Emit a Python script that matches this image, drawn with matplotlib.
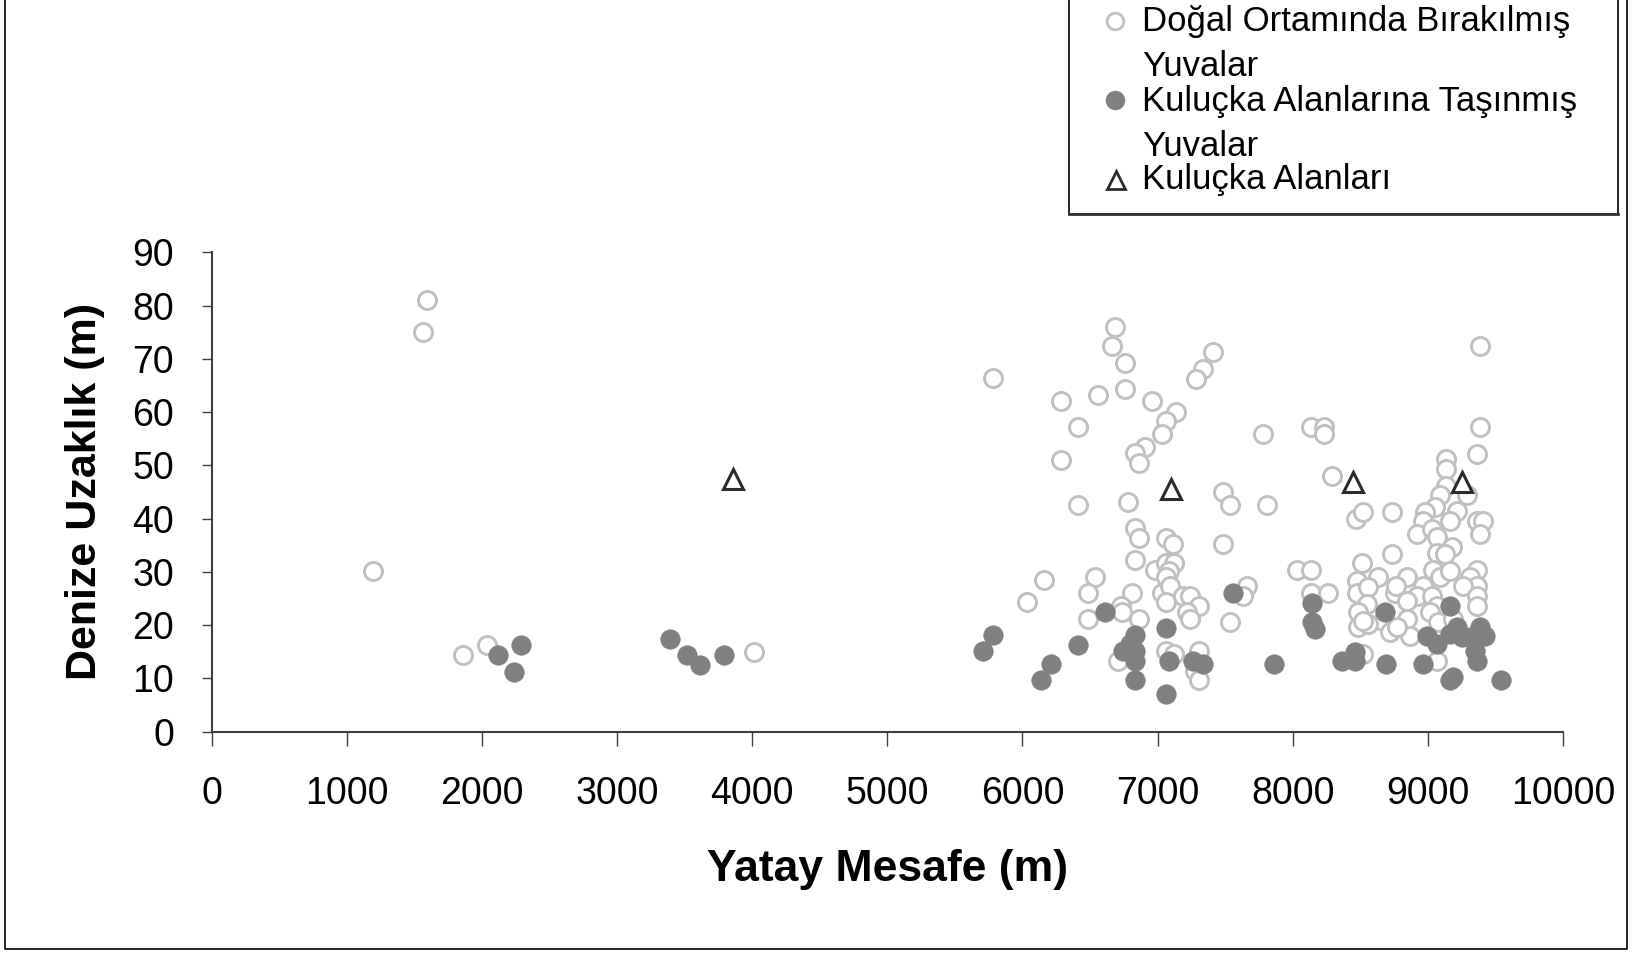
import matplotlib
matplotlib.use("Agg")
import matplotlib.pyplot as plt
from matplotlib.lines import Line2D
from matplotlib.patches import Rectangle

plt.rcParams['font.family'] = ['Liberation Sans', 'DejaVu Sans']

# Doğal Ortamında Bırakılmış Yuvalar (open light circles)
x_dogal = [1190, 1590, 1565, 1860, 2035, 4015,
           6685, 6663, 6759, 5785, 7408, 7334, 7285, 6759, 6285, 6559, 6959, 7136, 7063, 7033,
           6409, 7783, 6907, 6836, 6860, 6285, 6409, 6784, 7487, 7536, 7812, 6836, 6860, 7063,
           7112, 7487, 6836, 6981, 7063, 7124, 7082, 7063, 8035, 6535, 6160, 6031, 6483, 6808,
           7033, 7092, 7063, 7191, 7240, 7309, 7215, 7240, 6730, 6737, 6860, 6483, 7660, 7635,
           7536, 7063, 7124, 7309, 6710, 7277, 7309,
           9386, 9386, 8133, 8232, 8232, 9361, 9134, 9134, 8288, 9134, 9090, 9287, 9053, 9213,
           8468, 8523, 8737, 8979, 8967, 9164, 9361, 9411, 9386, 8917, 9028, 9065, 9065, 9176,
           9127, 8737, 8510, 8135, 9361, 9041, 9090, 9164, 8473, 8634, 8843, 8967, 9312, 9361,
           9263, 8473, 8560, 8757, 8762, 8917, 9361, 8135, 8264, 8547, 8843, 9028, 9065, 9361,
           8486, 8671, 8843, 9016, 9078, 9188, 8486, 8560, 8720, 8868, 8523, 9065, 8523, 8770]
y_dogal = [30.2, 81.0, 75.0, 14.4, 16.2, 15.0,
           76.0, 72.4, 69.3, 66.3, 71.2, 68.0, 66.2, 64.4, 62.0, 63.2, 62.0, 60.1, 58.4, 55.8,
           57.1, 55.8, 53.5, 52.3, 50.5, 51.0, 42.5, 43.1, 44.9, 42.5, 42.5, 38.2, 36.4, 36.4,
           35.2, 35.2, 32.2, 30.3, 31.6, 31.6, 30.2, 29.0, 30.3, 29.1, 28.4, 24.3, 26.1, 26.1,
           26.1, 27.4, 24.3, 25.5, 25.5, 23.6, 22.4, 21.1, 23.6, 22.4, 21.1, 21.1, 27.4, 25.5,
           20.5, 15.1, 14.6, 15.1, 13.3, 11.4, 9.6,
           72.4, 57.2, 57.1, 57.1, 55.8, 52.2, 51.2, 49.3, 48.0, 46.2, 44.4, 44.4, 42.1, 41.5,
           40.0, 41.3, 41.3, 41.2, 39.6, 39.6, 39.6, 39.6, 37.1, 37.1, 38.0, 36.5, 33.6, 34.6,
           33.3, 33.3, 31.6, 30.3, 30.3, 30.3, 29.0, 30.2, 28.3, 29.0, 29.0, 27.4, 29.0, 27.4,
           27.4, 26.1, 27.1, 26.1, 27.4, 25.5, 25.5, 26.1, 26.1, 23.9, 24.6, 25.5, 23.6, 23.6,
           22.4, 20.8, 21.1, 22.4, 20.5, 21.1, 19.6, 20.2, 18.6, 18.0, 14.6, 13.3, 20.8, 19.6]

# Kuluçka Alanlarına Taşınmış Yuvalar (filled dark circles)
x_tasinmis = [2117, 2238, 2291, 3392, 3517, 3615, 3792,
              5785, 5711, 6211, 6135, 6409, 6611, 6836, 6747, 6836, 6836, 6796, 6836, 7063,
              7087, 7063, 7260, 7339, 7561, 7862,
              8140, 8140, 8165, 8362, 8461, 8461, 8683, 8688, 8962, 8991, 9065, 9164, 9164,
              9213, 9250, 9312, 9386, 9423, 9349, 9361, 9164, 9188, 9539]
y_tasinmis = [14.3, 11.2, 16.2, 17.3, 14.3, 12.5, 14.3,
              18.1, 15.1, 12.7, 9.6, 16.3, 22.4, 18.1, 15.1, 15.1, 13.3, 16.4, 9.6, 19.4,
              13.3, 7.1, 13.3, 12.7, 26.1, 12.7,
              24.1, 20.5, 19.2, 13.3, 14.9, 13.3, 22.4, 12.7, 12.7, 18.0, 16.4, 23.6, 18.3,
              19.6, 17.7, 17.7, 19.6, 18.0, 15.2, 13.3, 9.6, 10.2, 9.6]

# Kuluçka Alanları (triangles)
x_alan = [3857, 7100, 8449, 9250]
y_alan = [47.5, 45.5, 46.8, 46.8]

legend_labels = ["Doğal Ortamında Bırakılmış", "Yuvalar",
                 "Kuluçka Alanlarına Taşınmış", "Yuvalar", "Kuluçka Alanları"]

W, H = 1635, 955
fig = plt.figure(figsize=(W / 100, H / 100), dpi=100)
fig.patch.set_facecolor('white')

def fx(px):
    return px / W

def fy(py):
    return 1 - py / H

ax = fig.add_axes([fx(211.7), fy(731.5), fx(1563) - fx(211.7), fy(252.3) - fy(731.5)])

ax.plot(x_dogal, y_dogal, linestyle='none', marker='o', markersize=13,
        markerfacecolor='white', markeredgecolor='#c0c0c0', markeredgewidth=2.1, zorder=3)
ax.plot(x_tasinmis, y_tasinmis, linestyle='none', marker='o', markersize=14,
        markerfacecolor='#808080', markeredgecolor='#808080', markeredgewidth=0.5, zorder=4)
ax.plot(x_alan, y_alan, linestyle='none', marker='^', markersize=15,
        markerfacecolor='white', markeredgecolor='#2b2b2b', markeredgewidth=2.2, zorder=5)

ax.set_xlim(0, 10000)
ax.set_ylim(0, 90)
ax.set_xticks(range(0, 10001, 1000))
ax.set_yticks(range(0, 91, 10))
for s in ['top', 'right']:
    ax.spines[s].set_visible(False)
for s in ['left', 'bottom']:
    ax.spines[s].set_color('#404040')
    ax.spines[s].set_linewidth(1.5)
ax.tick_params(axis='x', direction='out', length=10, width=1, colors='#404040',
               labelsize=27, labelcolor='black', pad=22)
ax.tick_params(axis='y', direction='out', length=7, width=1, colors='#404040',
               labelsize=27, labelcolor='black', pad=20)
ax.set_xlabel('Yatay Mesafe (m)', fontsize=32, fontweight='bold', labelpad=27)
ax.set_ylabel('Denize Uzaklık (m)', fontsize=31, fontweight='bold', labelpad=20)

# Figure border (left, bottom, right)
fig.add_artist(Line2D([fx(5), fx(5), fx(1627), fx(1627)],
                      [1.0, fy(949), fy(949), 1.0], color='black', linewidth=1.2))

# Legend box
fig.add_artist(Rectangle((fx(1069), fy(214)), fx(1618) - fx(1069), 1.05 - fy(214),
                         facecolor='white', edgecolor='black', linewidth=1.2))
fig.add_artist(Line2D([fx(1069), fx(1618)], [fy(214), fy(214)], color='#333333', linewidth=2.0))

fig.add_artist(Line2D([fx(1115)], [fy(21)], linestyle='none', marker='o', markersize=12,
                      markerfacecolor='white', markeredgecolor='#c0c0c0', markeredgewidth=2.0))
fig.add_artist(Line2D([fx(1115)], [fy(100)], linestyle='none', marker='o', markersize=13,
                      markerfacecolor='#808080', markeredgecolor='#808080'))
fig.add_artist(Line2D([fx(1116)], [fy(180)], linestyle='none', marker='^', markersize=13,
                      markerfacecolor='white', markeredgecolor='#2b2b2b', markeredgewidth=2.0))
text_y = [21, 67, 102, 146, 179]
for lbl, ty in zip(legend_labels, text_y):
    fig.text(fx(1142), fy(ty), lbl, fontsize=25, ha='left', va='center')

fig.savefig('out.png', dpi=100)
